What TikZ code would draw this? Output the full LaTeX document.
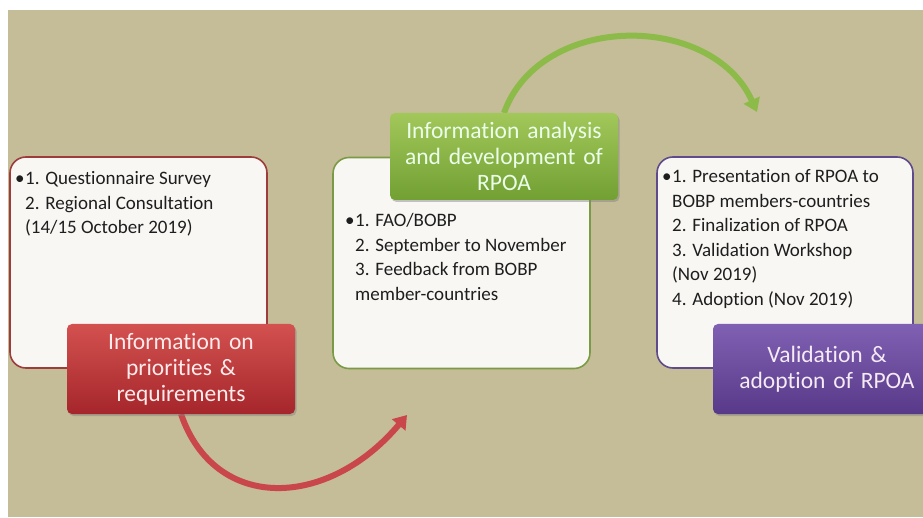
\documentclass[tikz,border=0pt]{standalone}
\usepackage{fontspec}
\setmainfont{Carlito}[Ligatures={NoCommon}]
\usetikzlibrary{arrows.meta,shadows,positioning}

\definecolor{bgkhaki}{HTML}{C5BD98}
\definecolor{boxfill}{HTML}{F8F7F4}
\definecolor{itemtext}{HTML}{1E1E1E}
\definecolor{redline}{HTML}{9E3B3B}
\definecolor{greenline}{HTML}{7B9A45}
\definecolor{purpleline}{HTML}{5F4B8B}
\definecolor{redtop}{HTML}{D3514F}
\definecolor{redbot}{HTML}{A5262B}
\definecolor{greentop}{HTML}{A2C75A}
\definecolor{greenbot}{HTML}{72A033}
\definecolor{purpletop}{HTML}{8060B2}
\definecolor{purplebot}{HTML}{583989}
\definecolor{redarrow}{HTML}{C9464B}
\definecolor{greenarrow}{HTML}{8DBB4A}

\begin{document}
\begin{tikzpicture}[x=1pt,y=1pt,
  box/.style={draw, line width=1.6pt, rounded corners=16pt, fill=boxfill,
    minimum width=257pt, minimum height=211pt, inner sep=0pt},
  stage/.style={rounded corners=5pt, minimum width=228pt, minimum height=90pt,
    text width=220pt, align=center, inner sep=0pt,
    font=\fontsize{23.5}{26}\selectfont,
    drop shadow={shadow xshift=1.5pt, shadow yshift=-2pt, opacity=.45}},
  items/.style={anchor=base west, inner sep=0pt, text=itemtext,
    font=\fontsize{19}{24.5}\selectfont},
  flow/.style={line width=6pt, -{Triangle[width=17pt,length=13pt]}}]
  % page and background
  \fill[white] (0,0) rectangle (923,517);
  \fill[bgkhaki] (8,0) rectangle (923,507);
  \useasboundingbox (0,0) rectangle (923,517);

  % white boxes
  \node[box, draw=redline] at (138.5,254.5) (infobox) {};
  \node[box, draw=greenline] at (461.5,254) (analysisbox) {};
  \node[box, draw=purpleline, minimum width=256pt] at (785,254.5) (validbox) {};

  % lists
  \node[items] at (15,332) (infolist) {\begin{tabular}[t]{@{}l@{}l@{}}
    \makebox[10pt][l]{\textbullet} & 1. Questionnaire Survey\\
    & 2. Regional Consultation\\
    & (14/15 October 2019)
  \end{tabular}};
  \node[items] at (345,290) (analysislist) {\begin{tabular}[t]{@{}l@{}l@{}}
    \makebox[10pt][l]{\textbullet} & 1. FAO/BOBP\\
    & 2. September to November\\
    & 3. Feedback from BOBP\\
    & member-countries
  \end{tabular}};
  \node[items] at (662,334) (validlist) {\begin{tabular}[t]{@{}l@{}l@{}}
    \makebox[10pt][l]{\textbullet} & 1. Presentation of RPOA to\\
    & BOBP members-countries\\
    & 2. Finalization of RPOA\\
    & 3. Validation Workshop\\
    & (Nov 2019)\\
    & 4. Adoption (Nov 2019)
  \end{tabular}};

  % curved arrows
  \coordinate (redtip) at (407,102);
  \coordinate (greentip) at (757,405);
  \node at (181,103) (redstart) {};
  \node at (504,404) (greenstart) {};
  \draw[flow, redarrow] (redstart.center) .. controls (215,4) and (328,8) .. (redtip);
  \draw[flow, greenarrow] (greenstart.center) .. controls (540,505) and (712,505) .. (greentip);

  % stage labels
  \node[stage, top color=redtop, bottom color=redbot, text=white!92!red]
    at (181,148) (inforeq) {Information on\\ priorities \&\\ requirements};
  \node[stage, top color=greentop, bottom color=greenbot, text=white!92!green,
    minimum height=87pt] at (504,360.5) (analysis) {Information analysis\\ and development of\\ RPOA};
  \node[stage, top color=purpletop, bottom color=purplebot, text=white!92!violet]
    at (827,148) (validation) {Validation \&\\ adoption of RPOA};
\end{tikzpicture}
\end{document}
